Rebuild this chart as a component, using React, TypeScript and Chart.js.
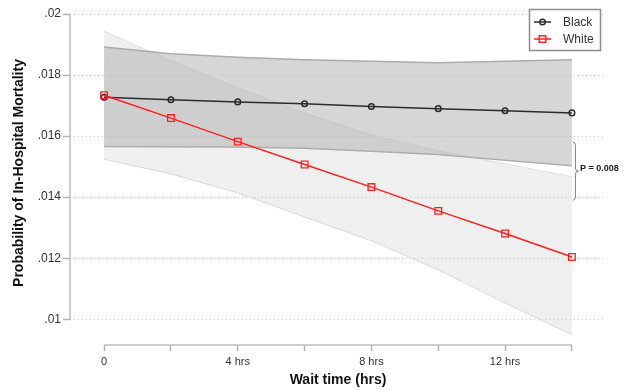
import React, { useEffect, useRef } from 'react';
import { Chart, registerables } from 'chart.js';

Chart.register(...registerables);

// Predicted in-hospital mortality by wait time, with 95% confidence bands
const hours = [0, 2, 4, 6, 8, 10, 12, 14];
const blackProb = [0.01727, 0.01719, 0.01712, 0.01706, 0.01697, 0.0169, 0.01683, 0.01676];
const blackUpper = [0.01892, 0.0187, 0.01858, 0.0185, 0.01845, 0.0184, 0.01845, 0.0185];
const blackLower = [0.01566, 0.01565, 0.01564, 0.0156, 0.0155, 0.0154, 0.01521, 0.01503];
const whiteProb = [0.01734, 0.01659, 0.01582, 0.01507, 0.01433, 0.01355, 0.01281, 0.01204];
const whiteUpper = [0.01943, 0.01847, 0.01758, 0.01676, 0.01604, 0.01552, 0.01509, 0.01467];
const whiteLower = [0.01524, 0.01476, 0.01414, 0.01335, 0.01257, 0.01162, 0.01053, 0.00949];

const seriesNames = ['Black', 'White'];
const yTicks = [0.01, 0.012, 0.014, 0.016, 0.018, 0.02];
const yTickLabels = ['.01', '.012', '.014', '.016', '.018', '.02'];
const xTicks = hours;
const xTickLabels = ['0', '', '4 hrs', '', '8 hrs', '', '12 hrs', ''];

const xTitle = 'Wait time (hrs)';
const yTitle = 'Probability of In-Hospital Mortality';
const pLabel = 'P = 0.008';
const pBracket = [0.0158, 0.0139];

const FONT = "'Liberation Sans', Arial, sans-serif";
const BLACK = '#2b2b2b';
const RED = '#ff1f1f';

const pts = (ys: number[]) => hours.map((h, i) => ({ x: h, y: ys[i] }));

function drawMarker(ctx: CanvasRenderingContext2D, style: string, x: number, y: number, color: string) {
  ctx.save();
  ctx.strokeStyle = color;
  ctx.lineWidth = 1.4;
  ctx.beginPath();
  if (style === 'rect') {
    ctx.rect(x - 3.3, y - 3.3, 6.6, 6.6);
  } else {
    ctx.arc(x, y, 2.8, 0, Math.PI * 2);
  }
  ctx.stroke();
  ctx.restore();
}

const decorations = {
  id: 'decorations',
  afterDraw(chart: any) {
    const { ctx, chartArea, scales } = chart;
    const xs = scales.x;
    const ys = scales.y;
    ctx.save();

    // axis lines, limited to the data span
    ctx.strokeStyle = '#bdbdbd';
    ctx.lineWidth = 1.5;
    ctx.beginPath();
    ctx.moveTo(chartArea.left, ys.getPixelForValue(yTicks[yTicks.length - 1]));
    ctx.lineTo(chartArea.left, ys.getPixelForValue(yTicks[0]));
    ctx.moveTo(xs.getPixelForValue(xTicks[0]), chartArea.bottom);
    ctx.lineTo(xs.getPixelForValue(xTicks[xTicks.length - 1]), chartArea.bottom);
    ctx.stroke();

    // axis titles
    ctx.fillStyle = '#111';
    ctx.font = `bold 14px ${FONT}`;
    ctx.textAlign = 'center';
    ctx.textBaseline = 'middle';
    const xMid = (xs.getPixelForValue(xTicks[0]) + xs.getPixelForValue(xTicks[xTicks.length - 1])) / 2;
    ctx.fillText(xTitle, xMid, 380);
    ctx.save();
    ctx.translate(19, 173);
    ctx.rotate(-Math.PI / 2);
    ctx.fillText(yTitle, 0, 0);
    ctx.restore();

    // significance bracket
    const bx = xs.getPixelForValue(xTicks[xTicks.length - 1]) + 3.5;
    const yT = ys.getPixelForValue(pBracket[0]);
    const yB = ys.getPixelForValue(pBracket[1]);
    const yM = (yT + yB) / 2;
    ctx.strokeStyle = '#8a7c72';
    ctx.lineWidth = 1;
    ctx.beginPath();
    ctx.moveTo(bx - 2.5, yT);
    ctx.quadraticCurveTo(bx, yT, bx, yT + 3);
    ctx.lineTo(bx, yM - 3);
    ctx.quadraticCurveTo(bx, yM, bx + 3, yM);
    ctx.quadraticCurveTo(bx, yM, bx, yM + 3);
    ctx.lineTo(bx, yB - 3);
    ctx.quadraticCurveTo(bx, yB, bx - 2.5, yB);
    ctx.stroke();
    ctx.fillStyle = '#222';
    ctx.font = `bold 9px ${FONT}`;
    ctx.textAlign = 'left';
    ctx.fillText(pLabel, bx + 4.5, yM - 3);

    // legend box
    const lx = 529.5, ly = 9.5, lw = 71, lh = 41;
    ctx.fillStyle = '#fff';
    ctx.fillRect(lx, ly, lw, lh);
    ctx.strokeStyle = '#8c8c8c';
    ctx.lineWidth = 1.5;
    ctx.strokeRect(lx, ly, lw, lh);
    const entries = [chart.data.datasets[1], chart.data.datasets[0]];
    entries.forEach((ds: any, i: number) => {
      const ey = 22 + i * 17;
      ctx.strokeStyle = ds.borderColor;
      ctx.lineWidth = 1.5;
      ctx.beginPath();
      ctx.moveTo(534, ey);
      ctx.lineTo(551, ey);
      ctx.stroke();
      drawMarker(ctx, ds.pointStyle, 542.5, ey, ds.borderColor);
      ctx.fillStyle = '#333';
      ctx.font = `12px ${FONT}`;
      ctx.textAlign = 'left';
      ctx.textBaseline = 'middle';
      ctx.fillText(ds.label, 563, ey + 0.5);
    });
    ctx.restore();
  },
};

export default function App() {
  const canvasRef = useRef<HTMLCanvasElement | null>(null);

  useEffect(() => {
    if (!canvasRef.current) return;
    const chart = new Chart(canvasRef.current, {
      type: 'line',
      data: {
        datasets: [
          {
            label: seriesNames[1],
            data: pts(whiteProb),
            borderColor: RED,
            borderWidth: 1.5,
            pointStyle: 'rect',
            pointRadius: 4.7,
            pointBorderWidth: 1.3,
            pointBorderColor: RED,
            pointBackgroundColor: 'transparent',
            fill: false,
            order: 0,
          },
          {
            label: seriesNames[0],
            data: pts(blackProb),
            borderColor: BLACK,
            borderWidth: 1.5,
            pointStyle: 'circle',
            pointRadius: 2.8,
            pointBorderWidth: 1.5,
            pointBorderColor: BLACK,
            pointBackgroundColor: 'transparent',
            fill: false,
            order: 1,
          },
          {
            label: 'Black upper',
            data: pts(blackUpper),
            borderColor: '#ababab',
            borderWidth: 1.5,
            pointRadius: 0,
            backgroundColor: 'rgba(180,180,180,0.55)',
            fill: '+1',
            order: 2,
          },
          {
            label: 'Black lower',
            data: pts(blackLower),
            borderColor: '#ababab',
            borderWidth: 1.5,
            pointRadius: 0,
            fill: false,
            order: 2,
          },
          {
            label: 'White upper',
            data: pts(whiteUpper),
            borderColor: '#dedede',
            borderWidth: 1,
            pointRadius: 0,
            backgroundColor: 'rgba(190,190,190,0.25)',
            fill: '+1',
            order: 3,
          },
          {
            label: 'White lower',
            data: pts(whiteLower),
            borderColor: '#dedede',
            borderWidth: 1,
            pointRadius: 0,
            fill: false,
            order: 3,
          },
        ],
      },
      options: {
        responsive: false,
        animation: false,
        layout: { padding: { top: 14, right: 26, left: 0, bottom: 0 } },
        plugins: {
          legend: { display: false },
          tooltip: { enabled: false },
        },
        scales: {
          x: {
            type: 'linear',
            min: -1.02,
            max: 15.02,
            afterBuildTicks: (scale: any) => {
              scale.ticks = xTicks.map((v) => ({ value: v }));
            },
            afterFit: (scale: any) => {
              scale.height = 45;
            },
            border: { display: false },
            grid: {
              drawOnChartArea: false,
              drawTicks: true,
              tickLength: 6,
              tickColor: '#b4b4b4',
              tickWidth: 1.5,
            },
            ticks: {
              autoSkip: false,
              maxRotation: 0,
              padding: 4,
              color: '#333',
              font: { family: FONT, size: 11 },
              callback: (_v: any, i: number) => xTickLabels[i],
            },
          },
          y: {
            type: 'linear',
            min: 0.009157,
            max: 0.02,
            afterBuildTicks: (scale: any) => {
              scale.ticks = yTicks.map((v) => ({ value: v }));
            },
            afterFit: (scale: any) => {
              scale.width = 70;
            },
            border: { display: false, dash: [1, 3] },
            grid: {
              color: '#c4c4c4',
              lineWidth: 1,
              drawTicks: true,
              tickLength: 7,
              tickColor: '#b4b4b4',
              tickWidth: 1.5,
              tickBorderDash: [],
            },
            ticks: {
              padding: 2,
              color: '#333',
              font: { family: FONT, size: 12 },
              callback: (_v: any, i: number) => yTickLabels[i],
            },
          },
        },
      },
      plugins: [decorations],
    } as any);
    return () => chart.destroy();
  }, []);

  return (
    <div style={{ position: 'fixed', left: 0, top: 0, width: 632, height: 390, background: '#fff' }}>
      <canvas ref={canvasRef} width={632} height={390} style={{ display: 'block' }} />
    </div>
  );
}
